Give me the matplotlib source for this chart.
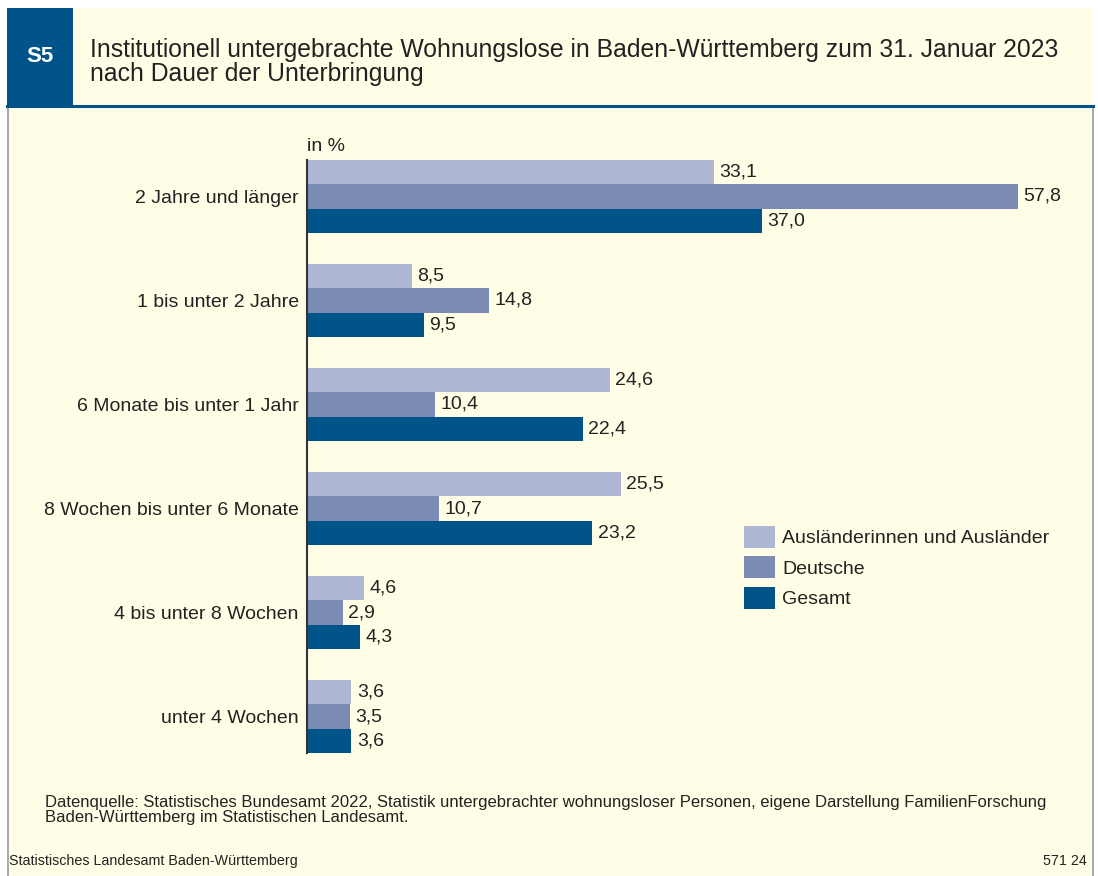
import numpy as np
import matplotlib.pyplot as plt
from matplotlib.patches import Rectangle
from matplotlib.lines import Line2D

plt.rcParams['font.family'] = ['Liberation Sans', 'DejaVu Sans']

# data
categories = ['2 Jahre und länger', '1 bis unter 2 Jahre', '6 Monate bis unter 1 Jahr',
              '8 Wochen bis unter 6 Monate', '4 bis unter 8 Wochen', 'unter 4 Wochen']
auslaender = [33.1, 8.5, 24.6, 25.5, 4.6, 3.6]
deutsche = [57.8, 14.8, 10.4, 10.7, 2.9, 3.5]
gesamt = [37.0, 9.5, 22.4, 23.2, 4.3, 3.6]
series_names = ['Ausländerinnen und Ausländer', 'Deutsche', 'Gesamt']
colors = ['#b0b7d4', '#7b8bb3', '#00548a']

W, H = 1098, 876
bg = '#fffde6'
txt = '#222222'
fs = 14

fig = plt.figure(figsize=(W / 100, H / 100), dpi=100)
fig.patch.set_facecolor('white')

# frame: header and body
fig.patches.append(Rectangle((8 / W, -0.01), 1085 / W, (H - 106) / H + 0.01, transform=fig.transFigure,
                             facecolor=bg, edgecolor='#9a9a9a', linewidth=1.2, zorder=-3))
fig.patches.append(Rectangle((7 / W, (H - 106) / H), 1086 / W, 98 / H, transform=fig.transFigure,
                             facecolor=bg, edgecolor='none', zorder=-2))
fig.patches.append(Rectangle((7 / W, (H - 106) / H), 66 / W, 98 / H, transform=fig.transFigure,
                             facecolor='#00548a', edgecolor='none', zorder=-1))
fig.lines.append(Line2D([7 / W, 1093 / W], [(H - 106) / H] * 2, transform=fig.transFigure,
                        color='#00548a', linewidth=2.2, zorder=-1))
fig.text(40 / W, (H - 57) / H, 'S5', color='white', fontsize=16, fontweight='bold',
         ha='center', va='center')
fig.text(90 / W, (H - 62) / H,
         'Institutionell untergebrachte Wohnungslose in Baden-Württemberg zum 31. Januar 2023\n'
         'nach Dauer der Unterbringung',
         color=txt, fontsize=17.8, ha='left', va='center', linespacing=1.0)

# axes
ax = fig.add_axes([307 / W, (H - 753) / H, 738 / W, 593 / H])
ax.set_facecolor('none')
h = 0.2337
y = np.arange(len(categories))
for k, (vals, name, c) in enumerate(zip([auslaender, deutsche, gesamt], series_names, colors)):
    yy = y + (k - 1) * h
    ax.barh(yy, vals, height=h, color=c, label=name, linewidth=0)
    for yi, v in zip(yy, vals):
        ax.text(v + 0.45, yi, f'{v:.1f}'.replace('.', ','), va='center', ha='left',
                fontsize=fs, color=txt)

ax.set_xlim(0, 60)
ax.set_ylim(len(categories) - 1 + 1.5 * h, -1.5 * h)
ax.set_yticks(y)
ax.set_yticklabels(categories, fontsize=fs, color=txt)
ax.tick_params(axis='y', length=0, pad=6)
ax.set_xticks([])
for s in ['top', 'right', 'bottom']:
    ax.spines[s].set_visible(False)
ax.spines['left'].set_color('#333333')
ax.spines['left'].set_linewidth(1.5)
ax.text(0, 1.008, 'in %', transform=ax.transAxes, ha='left', va='bottom',
        fontsize=fs, color=txt)

leg = fig.legend(loc='upper left', bbox_to_anchor=(728 / W, (H - 510) / H), frameon=False,
                 fontsize=fs, handlelength=1.6, handleheight=1.36, labelspacing=0.45,
                 handletextpad=0.4, borderpad=0.3)
for t in leg.get_texts():
    t.set_color(txt)

# footer
fig.text(45 / W, (H - 810) / H,
         'Datenquelle: Statistisches Bundesamt 2022, Statistik untergebrachter wohnungsloser '
         'Personen, eigene Darstellung FamilienForschung\nBaden-Württemberg im Statistischen Landesamt.',
         fontsize=12, color=txt, ha='left', va='center', linespacing=0.95)
fig.text(9 / W, (H - 861) / H, 'Statistisches Landesamt Baden-Württemberg', fontsize=10.3,
         color=txt, ha='left', va='center')
fig.text(1087 / W, (H - 861) / H, '571 24', fontsize=10.3, color=txt, ha='right', va='center')

fig.savefig('out.png', dpi=100, facecolor=fig.get_facecolor())
